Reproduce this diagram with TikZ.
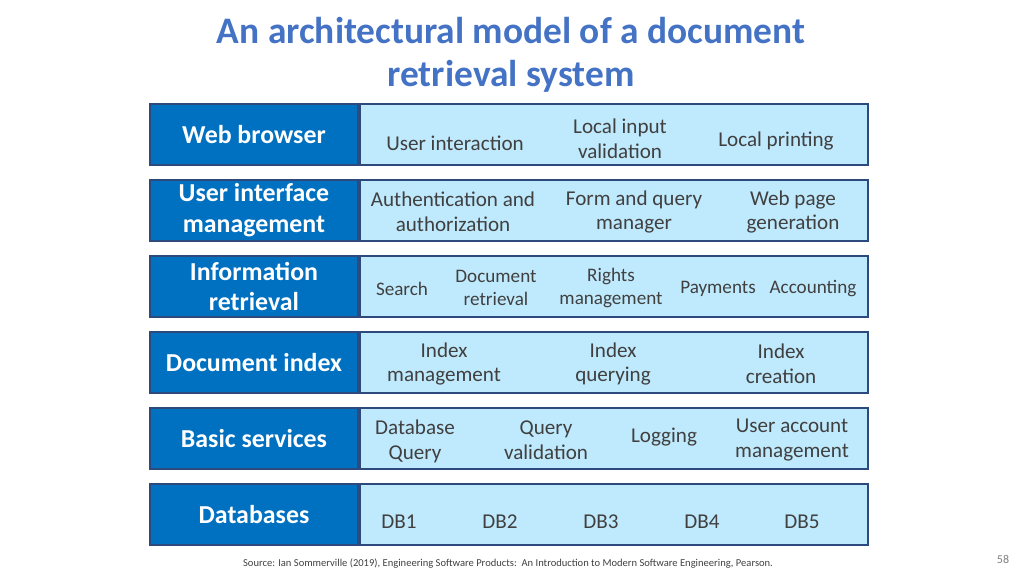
\documentclass[tikz,border=0pt]{standalone}
\usepackage{fontspec}
\setmainfont{Carlito}
\usetikzlibrary{positioning}
\definecolor{titleblue}{HTML}{4472C4}
\definecolor{layerblue}{HTML}{0070C0}
\definecolor{bandblue}{HTML}{BFE9FC}
\definecolor{edgeblue}{HTML}{2E4A7D}
\definecolor{itemgray}{HTML}{404040}
\tikzset{%
layer/.style={draw=edgeblue,line width=1.2pt,fill=layerblue,text=white,
  minimum width=5.2cm,minimum height=1.525cm,align=center,inner sep=0pt,
  font=\fontsize{18.4}{22}\selectfont\bfseries},
band/.style={draw=edgeblue,line width=1.2pt,fill=bandblue,anchor=west,
  minimum width=12.7cm,minimum height=1.525cm,inner sep=0pt},
item/.style={text=itemgray,align=center,inner sep=0pt,yshift=-0.05cm,
  font=\fontsize{15}{17.7}\selectfont},
smallitem/.style={item,font=\fontsize{13.6}{16.3}\selectfont},
}
\begin{document}
\begin{tikzpicture}[x=0.025cm,y=-0.025cm]
\useasboundingbox (0,0) rectangle (1024,575);

% title
\node[text=titleblue,align=center,font=\fontsize{26.6}{30.5}\selectfont\bfseries]
  (title) at (511,55) {An architectural model of a document\\retrieval system};

% layers
\node[layer] (web) at (254,134.5) {Web browser};
\node[band] (webband) at (web.east) {};
\node[layer] (ui) at (254,210.5) {User interface\\management};
\node[band] (uiband) at (ui.east) {};
\node[layer] (info) at (254,286.5) {Information\\retrieval};
\node[band] (infoband) at (info.east) {};
\node[layer] (index) at (254,362.5) {Document index};
\node[band] (indexband) at (index.east) {};
\node[layer] (basic) at (254,438.5) {Basic services};
\node[band] (basicband) at (basic.east) {};
\node[layer] (db) at (254,514.5) {Databases};
\node[band] (dbband) at (db.east) {};

% web browser
\node[item] (interact) at (455,141) {User interaction};
\node[item] (input) at (620,137) {Local input\\validation};
\node[item] (print) at (776,139) {Local printing};

% user interface management
\node[item] (auth) at (453,210) {Authentication and\\authorization};
\node[item] (form) at (634,210) {Form and query\\manager};
\node[item] (page) at (793,210) {Web page\\generation};

% information retrieval
\node[smallitem] (search) at (402,287) {Search};
\node[smallitem] (docret) at (496,286) {Document\\retrieval};
\node[smallitem] (rights) at (611,286) {Rights\\management};
\node[smallitem] (pay) at (718,287) {Payments};
\node[smallitem] (account) at (813,287) {Accounting};

% document index
\node[item] (indexman) at (444,362) {Index\\management};
\node[item] (indexqry) at (613,362) {Index\\querying};
\node[item] (indexcre) at (781,362) {Index\\creation};

% basic services
\node[item] (dbquery) at (415,439) {Database\\Query};
\node[item] (qryval) at (546,438) {Query\\validation};
\node[item] (log) at (664,435) {Logging};
\node[item] (useracc) at (792,438) {User account\\management};

% databases
\foreach \i/\x in {1/399,2/500,3/601,4/702,5/802}
  \node[item] (db\i) at (\x,520) {DB\i};

% footer
\node[text=itemgray,font=\fontsize{7.5}{8.5}\selectfont] (source) at (508,564)
  {Source: Ian Sommerville (2019), Engineering Software Products:\ \ An Introduction to Modern Software Engineering, Pearson.};
\node[text=gray,font=\fontsize{8.5}{9.5}\selectfont] (pagenum) at (1003,559) {58};
\end{tikzpicture}
\end{document}
